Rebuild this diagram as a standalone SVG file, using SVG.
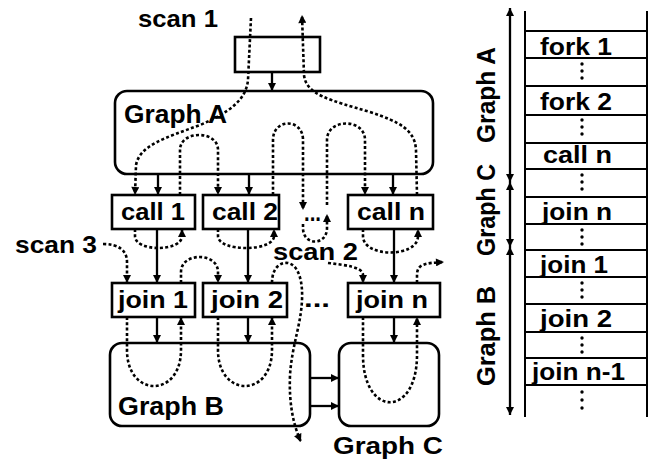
<svg xmlns="http://www.w3.org/2000/svg" width="654" height="462" viewBox="0 0 654 462">
<style>
text{font-family:"Liberation Sans",Arial,Helvetica,sans-serif;font-weight:bold;fill:#000;font-size:24px}
.g{font-size:26px}
.box{fill:#fff;stroke:#000;stroke-width:2.6}
.gr{fill:none;stroke:#000;stroke-width:2.6}
.s{fill:none;stroke:#000;stroke-width:2.3}
.d{fill:none;stroke:#000;stroke-width:2.6;stroke-dasharray:3 2.3}
.ln{stroke:#000;stroke-width:2;fill:none}
.dot{fill:#000}
</style>
<defs>
<marker id="ah" viewBox="0 0 10 10" refX="10" refY="5" markerWidth="10" markerHeight="8" markerUnits="userSpaceOnUse" orient="auto-start-reverse"><path d="M0,0 L10,5 L0,10 z" fill="#000"/></marker>
</defs>

<g id="top-box"><rect class="box" x="235" y="37" width="85" height="35"/></g>
<g id="graphA"><rect class="gr" x="115" y="91" width="318" height="83" rx="12"/><text class="g" x="124" y="123" textLength="103" lengthAdjust="spacingAndGlyphs">Graph A</text></g>
<g id="graphB"><rect class="gr" x="110" y="343" width="200" height="83" rx="12"/><text class="g" x="118" y="415" textLength="106" lengthAdjust="spacingAndGlyphs">Graph B</text></g>
<g id="graphC"><rect class="gr" x="339" y="343" width="100" height="83" rx="12"/><text x="333" y="454" font-size="25" textLength="110" lengthAdjust="spacingAndGlyphs">Graph C</text></g>

<g id="call1"><rect class="box" x="112" y="195" width="83" height="34"/><text x="121" y="220" textLength="64" lengthAdjust="spacingAndGlyphs">call 1</text></g>
<g id="call2"><rect class="box" x="203" y="195" width="76" height="34"/><text x="212" y="220" textLength="66" lengthAdjust="spacingAndGlyphs">call 2</text></g>
<g id="calln"><rect class="box" x="348" y="195" width="85" height="34"/><text x="357" y="220" textLength="68" lengthAdjust="spacingAndGlyphs">call n</text></g>
<g id="join1"><rect class="box" x="112" y="283" width="83" height="34"/><text x="118" y="308" textLength="70" lengthAdjust="spacingAndGlyphs">join 1</text></g>
<g id="join2"><rect class="box" x="203" y="283" width="84" height="34"/><text x="211" y="308" textLength="72" lengthAdjust="spacingAndGlyphs">join 2</text></g>
<g id="joinn"><rect class="box" x="348" y="283" width="92" height="34"/><text x="356" y="308" textLength="72" lengthAdjust="spacingAndGlyphs">join n</text></g>

<g id="labels">
<text x="138" y="27" textLength="80" lengthAdjust="spacingAndGlyphs">scan 1</text>
<text x="15" y="253" textLength="82" lengthAdjust="spacingAndGlyphs">scan 3</text>
<text x="273" y="260" textLength="85" lengthAdjust="spacingAndGlyphs">scan 2</text>
<text x="304" y="307" textLength="26" lengthAdjust="spacingAndGlyphs">...</text>
<text x="304" y="221" font-size="18" textLength="17" lengthAdjust="spacingAndGlyphs">...</text>
</g>

<g id="connectors">
<path class="s" d="M272,72 L272,91" marker-end="url(#ah)"/>
<path class="s" d="M158,174 L158,195" marker-end="url(#ah)"/>
<path class="s" d="M249,174 L249,195" marker-end="url(#ah)"/>
<path class="s" d="M393,174 L393,195" marker-end="url(#ah)"/>
<path class="s" d="M157,229 L157,283" marker-end="url(#ah)"/>
<path class="s" d="M248,229 L248,283" marker-end="url(#ah)"/>
<path class="s" d="M394,229 L394,283" marker-end="url(#ah)"/>
<path class="s" d="M157,317 L157,343" marker-end="url(#ah)"/>
<path class="s" d="M248,317 L248,343" marker-end="url(#ah)"/>
<path class="s" d="M394,317 L394,343" marker-end="url(#ah)"/>
<path class="s" d="M310,378 L339,378" marker-end="url(#ah)"/>
<path class="s" d="M310,406 L339,406" marker-end="url(#ah)"/>

<path class="d" d="M251,18 L248,80 C246,100 230,112 200,125 C165,138 140,145 136,165 L135,195" marker-end="url(#ah)"/>
<path class="d" d="M135,229 L135,236 C135,252 182,252 182,236 L182,229" marker-end="url(#ah)"/>
<path class="d" d="M180,195 L180,150 C180,130 218,130 218,150 L218,195" marker-end="url(#ah)"/>
<path class="d" d="M218,229 L218,236 C218,252 274,252 274,236 L274,229" marker-end="url(#ah)"/>
<path class="d" d="M273,195 L273,140 C273,118 303,118 303,140 L303,210" marker-end="url(#ah)"/>
<path class="d" d="M303,224 L303,228 C303,246 327,246 327,228 L327,214" marker-end="url(#ah)"/>
<path class="d" d="M327,205 L327,140 C327,118 365,118 365,140 L365,195" marker-end="url(#ah)"/>
<path class="d" d="M363,229 L363,236 C363,258 418,258 418,236 L418,229" marker-end="url(#ah)"/>
<path class="d" d="M417,195 L416,150 C415,130 400,122 370,112 C330,100 306,95 304,75 L302,15" marker-end="url(#ah)"/>

<path class="d" d="M103,244 C118,244 127,250 127,262 L127,283" marker-end="url(#ah)"/>
<path class="d" d="M127,317 L127,350 C127,398 181,398 181,350 L181,317" marker-end="url(#ah)"/>
<path class="d" d="M181,283 L181,272 C181,252 218,252 218,272 L218,283" marker-end="url(#ah)"/>
<path class="d" d="M218,317 L218,350 C218,398 272,398 272,350 L272,317" marker-end="url(#ah)"/>
<path class="d" d="M272,283 C272,268 280,262 288,263 C298,265 303,280 302,300 C301,325 292,345 290,375 C289,400 292,422 301,442" marker-end="url(#ah)"/>

<path class="d" d="M328,263 C345,265 363,267 363,275 L363,283" marker-end="url(#ah)"/>
<path class="d" d="M363,317 L363,355 C363,418 417,418 417,355 L417,317" marker-end="url(#ah)"/>
<path class="d" d="M417,283 L417,275 C417,264 425,263 444,262" marker-end="url(#ah)"/>

<path class="s" d="M510,8 L510,182" marker-start="url(#ah)" marker-end="url(#ah)"/>
<path class="s" d="M510,182 L510,247" marker-start="url(#ah)" marker-end="url(#ah)"/>
<path class="s" d="M510,247 L510,415" marker-start="url(#ah)" marker-end="url(#ah)"/>
</g>

<g id="stack-labels">
<text class="g" transform="translate(495,95) rotate(-90)" text-anchor="middle" textLength="96" lengthAdjust="spacingAndGlyphs">Graph A</text>
<text class="g" transform="translate(495,210) rotate(-90)" text-anchor="middle" textLength="92" lengthAdjust="spacingAndGlyphs">Graph C</text>
<text class="g" transform="translate(495,336) rotate(-90)" text-anchor="middle" textLength="100" lengthAdjust="spacingAndGlyphs">Graph B</text>
</g>

<g id="stack">
<path class="ln" d="M525,11 L525,417 M647,11 L647,417"/>
<path class="ln" d="M525,31 H647 M525,58 H647 M525,86 H647 M525,115 H647 M525,143 H647 M525,169 H647 M525,197 H647 M525,224 H647 M525,250 H647 M525,277 H647 M525,304 H647 M525,332 H647 M525,358 H647 M525,385 H647"/>
<text x="540" y="55" textLength="72" lengthAdjust="spacingAndGlyphs">fork 1</text>
<text x="540" y="110" textLength="72" lengthAdjust="spacingAndGlyphs">fork 2</text>
<text x="543" y="163" textLength="69" lengthAdjust="spacingAndGlyphs">call n</text>
<text x="542" y="220" textLength="70" lengthAdjust="spacingAndGlyphs">join n</text>
<text x="540" y="273" textLength="68" lengthAdjust="spacingAndGlyphs">join 1</text>
<text x="540" y="327" textLength="72" lengthAdjust="spacingAndGlyphs">join 2</text>
<text x="532" y="380" textLength="93" lengthAdjust="spacingAndGlyphs">join n-1</text>
<g class="dot">
<circle cx="582" cy="64" r="1.7"/><circle cx="582" cy="71" r="1.7"/><circle cx="582" cy="78" r="1.7"/>
<circle cx="582" cy="120" r="1.7"/><circle cx="582" cy="127" r="1.7"/><circle cx="582" cy="134" r="1.7"/>
<circle cx="582" cy="175" r="1.7"/><circle cx="582" cy="182" r="1.7"/><circle cx="582" cy="189" r="1.7"/>
<circle cx="582" cy="230" r="1.7"/><circle cx="582" cy="237" r="1.7"/><circle cx="582" cy="244" r="1.7"/>
<circle cx="582" cy="283" r="1.7"/><circle cx="582" cy="290" r="1.7"/><circle cx="582" cy="297" r="1.7"/>
<circle cx="582" cy="338" r="1.7"/><circle cx="582" cy="345" r="1.7"/><circle cx="582" cy="352" r="1.7"/>
<circle cx="582" cy="392" r="1.7"/><circle cx="582" cy="400" r="1.7"/><circle cx="582" cy="408" r="1.7"/>
</g>
</g>
</svg>
